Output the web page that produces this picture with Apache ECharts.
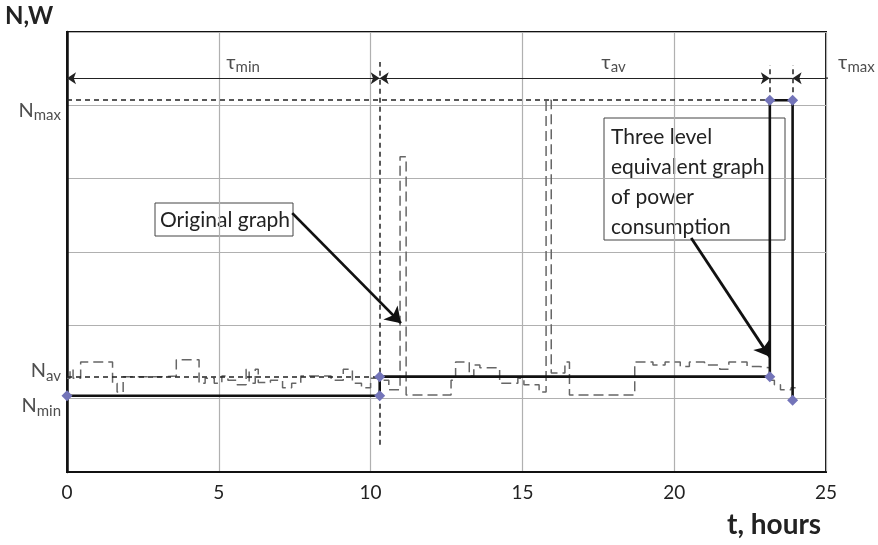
<!DOCTYPE html>
<html>
<head>
<meta charset="utf-8">
<script src="https://cdn.jsdelivr.net/npm/echarts@6/dist/echarts.min.js"></script>
<style>
  html, body { margin: 0; padding: 0; background: #fff; }
  #chart { width: 878px; height: 545px; }
</style>
</head>
<body>
<div id="chart"></div>
<script>
// x axis ticks (hours)
const hourTicks = [0, 5, 10, 15, 20, 25];

// levels of the three level graph
const levelNames = ["max", "av", "min"];
const levelValues = [5.07, 1.30, 1.04];

// original (measured) graph: value holds from origT[i] to origT[i+1]
const origT = [0, 0.1, 0.2, 0.45, 1.5, 1.65, 1.85, 3.2, 3.6, 4.35, 4.55, 4.85, 5.1, 5.3, 5.6, 5.9, 6.0, 6.2, 6.3, 6.7, 7.1, 7.4, 7.7, 8.7, 9.1, 9.4, 9.7, 10.0, 10.3, 10.6, 10.97, 11.17, 12.65, 12.8, 13.25, 13.4, 13.6, 14.25, 14.85, 15.05, 15.55, 15.78, 15.95, 16.4, 16.55, 18.7, 19.3, 19.7, 20.2, 20.5, 21.0, 21.5, 21.8, 22.4, 22.8, 23.15, 23.3, 23.5, 23.85, 24.0];
const origN = [1.28, 1.40, 1.28, 1.50, 1.21, 1.09, 1.30, 1.31, 1.53, 1.21, 1.28, 1.21, 1.31, 1.25, 1.19, 1.40, 1.21, 1.40, 1.22, 1.25, 1.15, 1.21, 1.31, 1.25, 1.40, 1.21, 1.15, 1.28, 1.25, 1.12, 4.30, 1.05, 1.25, 1.50, 1.31, 1.46, 1.42, 1.21, 1.28, 1.19, 1.09, 5.07, 1.35, 1.50, 1.05, 1.50, 1.46, 1.50, 1.44, 1.50, 1.46, 1.40, 1.50, 1.44, 1.42, 1.25, 1.19, 1.12, 1.15, 1.15];

// three level equivalent graph
const eqT = [0, 10.3, 10.3, 23.15, 23.15, 23.9, 23.9];
const eqN = [1.04, 1.04, 1.30, 1.30, 5.07, 5.07, 0.98];

// tau intervals
const tauNames = ["min", "av", "max"];
const tauBreaks = [0, 10.3, 23.15, 23.9];
const tauY = 5.37;
const tauTailEnd = 26.2;
const tauLabelT = [5.8, 18.0, 26.0];
const tauLabelY = 5.59;

const chart = echarts.init(document.getElementById("chart"));

const font = "Lato, 'Open Sans', sans-serif";
const subRich = {
	n: { fontSize: 20, color: "#222", fontFamily: font },
	s: { fontSize: 15, color: "#222", fontFamily: font, padding: [10, 0, 0, 0] }
};

const origData = origT.map((t, i) => [t, origN[i]]);
const eqData = eqT.map((t, i) => [t, eqN[i]]);

const dashDark = { color: "#222", type: [5, 4], width: 1.5 };
const thinLine = { color: "#222", type: "solid", width: 1.2 };

const tauLines = [
	// tau min, both ends arrows
	[{ coord: [tauBreaks[0], tauY], symbol: "arrow" }, { coord: [tauBreaks[1], tauY], symbol: "arrow" }],
	// tau av
	[{ coord: [tauBreaks[1], tauY], symbol: "arrow" }, { coord: [tauBreaks[2], tauY], symbol: "arrow" }],
	// short piece between tau max ticks
	[{ coord: [tauBreaks[2], tauY], symbol: "none" }, { coord: [tauBreaks[3], tauY], symbol: "none" }],
	// tau max arrow coming from outside (inner part)
	[{ coord: [25, tauY], symbol: "none" }, { coord: [tauBreaks[3], tauY], symbol: "arrow" }]
].map(p => {
	p[0].lineStyle = thinLine;
	return p;
});

const guideLines = [
	[{ coord: [0, levelValues[0]] }, { coord: [eqT[3], levelValues[0]] }],
	[{ coord: [0, levelValues[1]] }, { coord: [eqT[1], levelValues[1]] }],
	[{ coord: [tauBreaks[1], 0.37] }, { coord: [tauBreaks[1], 5.59] }],
	[{ coord: [tauBreaks[2], 5.18] }, { coord: [tauBreaks[2], 5.55] }],
	[{ coord: [tauBreaks[3], 5.18] }, { coord: [tauBreaks[3], 5.55] }]
].map(p => {
	p[0].lineStyle = dashDark;
	return p;
});

// callout arrows [from, to]
const callouts = [
	[[7.42, 3.53], [11.0, 2.03]],
	[[20.56, 3.19], [23.15, 1.57]]
];

const option = {
	animation: false,
	grid: {
		left: 67, right: 52, top: 32, bottom: 73,
		show: true, borderColor: "#111", borderWidth: 2
	},
	xAxis: {
		type: "value", min: 0, max: 25, interval: 5,
		axisLine: { lineStyle: { color: "#111", width: 2 } },
		axisTick: { show: false },
		axisLabel: { fontSize: 19, color: "#222", margin: 11, fontFamily: font },
		splitLine: { lineStyle: { color: "#b0b0b0", width: 1.2 } }
	},
	yAxis: {
		type: "value", min: 0, max: 6, interval: 1,
		axisLine: { show: true, lineStyle: { color: "#111", width: 2.5 } },
		axisTick: { show: false },
		axisLabel: { show: false },
		splitLine: { lineStyle: { color: "#b0b0b0", width: 1.2 } }
	},
	graphic: [
		{ type: "text", left: 5, top: 4, style: { text: "N,W", fontSize: 24, fontWeight: "bold", fill: "#222", fontFamily: font } },
		{ type: "text", left: 727, top: 511, style: { text: "t, hours", fontSize: 28, fontWeight: "bold", fill: "#222", fontFamily: font } },
		{
			type: "group", z: 1,
			children: [
				{ type: "rect", shape: { x: 155, y: 203, width: 138, height: 33 }, style: { fill: "#fff", stroke: "#444", lineWidth: 1 } },
				{ type: "text", x: 160, y: 220, style: { text: "Original graph", fontSize: 21, fill: "#222", fontFamily: font, verticalAlign: "middle" } },
				{ type: "rect", shape: { x: 604, y: 118, width: 181, height: 122 }, style: { fill: "#fff", stroke: "#444", lineWidth: 1 } },
				{ type: "text", x: 611, y: 122, style: { text: "Three level\nequivalent graph\nof power\nconsumption", fontSize: 21, lineHeight: 30, fill: "#222", fontFamily: font } }
			]
		}
	],
	series: [
		{
			name: "original",
			type: "line",
			step: "end",
			data: origData,
			symbol: "none",
			z: 3,
			lineStyle: { color: "#666", type: [10, 5], width: 1.5 }
		},
		{
			name: "guides",
			type: "line",
			data: [],
			z: 4,
			markLine: {
				silent: true,
				symbol: "none",
				symbolSize: 9,
				label: { show: false },
				data: guideLines.concat(tauLines)
			}
		},
		{
			name: "tauMaxTail",
			type: "line",
			data: [[25, tauY], [tauTailEnd, tauY]],
			clip: false,
			symbol: "none",
			silent: true,
			z: 4,
			lineStyle: thinLine
		},
		{
			name: "callouts",
			type: "line",
			data: [],
			z: 6,
			markLine: {
				silent: true,
				symbol: ["none", "arrow"],
				symbolSize: 15,
				label: { show: false },
				lineStyle: { color: "#111", type: "solid", width: 2.8 },
				data: callouts.map(c => [{ coord: c[0] }, { coord: c[1] }])
			}
		},
		{
			name: "equivalent",
			type: "line",
			data: eqData,
			symbol: "diamond",
			symbolSize: 11,
			z: 5,
			lineStyle: { color: "#111", width: 2.6 },
			itemStyle: { color: "#7374b9" }
		},
		{
			name: "levelLabels",
			type: "scatter",
			symbolSize: 0,
			clip: false,
			silent: true,
			data: levelNames.map((n, i) => ({
				value: [0, levelValues[i]],
				label: { offset: [-1, [10, -6, 10][i]] }
			})),
			label: {
				show: true,
				position: "left",
				formatter: p => "{n|N}{s|" + levelNames[p.dataIndex] + "}",
				rich: subRich
			}
		},
		{
			name: "tauLabels",
			type: "scatter",
			symbolSize: 0,
			clip: false,
			silent: true,
			data: tauNames.map((n, i) => [tauLabelT[i], tauLabelY]),
			label: {
				show: true,
				position: "inside",
				formatter: p => "{n|τ}{s|" + tauNames[p.dataIndex] + "}",
				rich: subRich
			}
		}
	]
};

chart.setOption(option);
</script>
</body>
</html>
